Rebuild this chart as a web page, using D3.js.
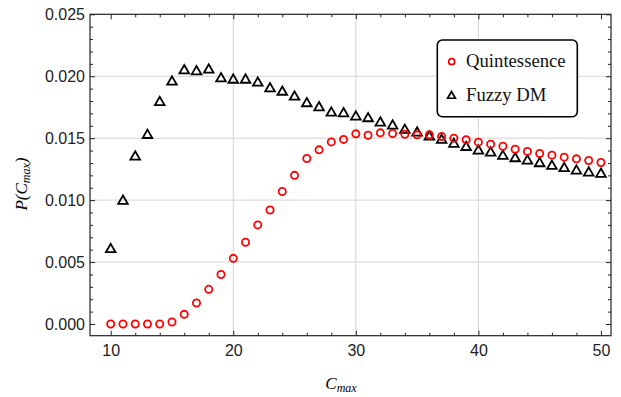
<!DOCTYPE html>
<html>
<head>
<meta charset="utf-8">
<script src="https://cdn.jsdelivr.net/npm/d3@7"></script>
<style>
  body { margin: 0; background: #fff; }
  .tick text { font-family: "Liberation Sans", Arial, sans-serif; font-size: 16px; fill: #222; }
  .domain { display: none; }
</style>
</head>
<body>
<div id="chart"></div>
<script>
const cmax = d3.range(10, 51);

const quintessence = [
  0.0000, 0.0000, 0.0000, 0.0000, 0.0000, 0.00016, 0.00078, 0.0017, 0.0028, 0.0040,
  0.0053, 0.0066, 0.0080, 0.0092, 0.0107, 0.0120, 0.01336, 0.01406, 0.0147, 0.0149,
  0.01535, 0.01524, 0.01543, 0.01538, 0.01532, 0.01527, 0.01527, 0.01514, 0.0150, 0.01487,
  0.01468, 0.01452, 0.01435, 0.01411, 0.01393, 0.01376, 0.01363, 0.01347, 0.01333, 0.0132,
  0.01304
];

const fuzzyDM = [
  0.00602, 0.00992, 0.0135, 0.01524, 0.0179, 0.01954, 0.02046, 0.02038, 0.02051, 0.01981,
  0.0197, 0.0197, 0.01946, 0.0190, 0.01873, 0.01833, 0.0178, 0.01747, 0.01704, 0.01699,
  0.01672, 0.01659, 0.01624, 0.0160, 0.01565, 0.01543, 0.0151, 0.01484, 0.01452, 0.01427,
  0.01398, 0.01382, 0.01355, 0.01336, 0.01317, 0.01296, 0.01274, 0.01256, 0.01236, 0.0122,
  0.0121
];

const xTicks = [10, 20, 30, 40, 50];
const yTicks = [0, 0.005, 0.010, 0.015, 0.020, 0.025];
const xGrid = [20, 30, 40];
const yGrid = [0.005, 0.010, 0.015, 0.020];
const legendLabels = ['Quintessence', 'Fuzzy DM'];

const width = 621, height = 397;
const margin = { top: 14.3, right: 10, bottom: 61.3, left: 90 };

const svg = d3.select('#chart')
  .append('svg')
  .attr('width', width)
  .attr('height', height);

const x = d3.scaleLinear()
  .domain([8.31, 50.82])
  .range([margin.left, width - margin.right]);

const y = d3.scaleLinear()
  .domain([-0.000944, 0.025])
  .range([height - margin.bottom, margin.top]);

// grid
svg.append('g')
  .selectAll('line.gx')
  .data(xGrid)
  .enter().append('line')
  .attr('x1', d => x(d)).attr('x2', d => x(d))
  .attr('y1', margin.top).attr('y2', height - margin.bottom)
  .attr('stroke', '#d4d4d4').attr('stroke-width', 1);

svg.append('g')
  .selectAll('line.gy')
  .data(yGrid)
  .enter().append('line')
  .attr('x1', margin.left).attr('x2', width - margin.right)
  .attr('y1', d => y(d)).attr('y2', d => y(d))
  .attr('stroke', '#d4d4d4').attr('stroke-width', 1);

// axes, ticks pointing inward
const xMinor = d3.range(10, 51, 2).filter(v => v % 10 !== 0);
const yMinor = d3.range(0, 26).map(v => v / 1000).filter((v, i) => i % 5 !== 0);

function drawAxis(axisFn, scale, ticks, minor, transform, labels, pad) {
  const g = svg.append('g').attr('transform', transform);
  g.call(axisFn(scale).tickValues(minor).tickSize(-3).tickFormat(''));
  const g2 = svg.append('g').attr('transform', transform);
  g2.call(axisFn(scale).tickValues(ticks).tickSize(-5).tickPadding(pad)
    .tickFormat(labels ? labels : ''));
  svg.selectAll('.tick line').attr('stroke', '#222');
  return g2;
}

drawAxis(d3.axisBottom, x, xTicks, xMinor, `translate(0,${height - margin.bottom})`, d3.format('d'), 9);
drawAxis(d3.axisTop, x, xTicks, xMinor, `translate(0,${margin.top})`, null, 0);
drawAxis(d3.axisLeft, y, yTicks, yMinor, `translate(${margin.left},0)`, d3.format('.3f'), 5);
drawAxis(d3.axisRight, y, yTicks, yMinor, `translate(${width - margin.right},0)`, null, 0);

svg.selectAll('.tick text').filter(function() { return this.textContent === ''; }).remove();

// frame
svg.append('rect')
  .attr('x', margin.left).attr('y', margin.top)
  .attr('width', width - margin.right - margin.left)
  .attr('height', height - margin.bottom - margin.top)
  .attr('fill', 'none').attr('stroke', '#222').attr('stroke-width', 1.2);

// series
const tri = d3.symbol().type(d3.symbolTriangle).size(40);

svg.append('g')
  .selectAll('path')
  .data(cmax)
  .enter().append('path')
  .attr('d', tri)
  .attr('transform', (d, i) => `translate(${x(d)},${y(fuzzyDM[i])})`)
  .attr('fill', 'none').attr('stroke', '#000').attr('stroke-width', 1.8);

svg.append('g')
  .selectAll('circle')
  .data(cmax)
  .enter().append('circle')
  .attr('cx', d => x(d))
  .attr('cy', (d, i) => y(quintessence[i]))
  .attr('r', 3.6)
  .attr('fill', 'none').attr('stroke', '#ff0000').attr('stroke-width', 1.8);

// axis labels
const serif = '"Liberation Serif", "Times New Roman", serif';

const xl = svg.append('text')
  .attr('x', 341).attr('y', 389)
  .attr('text-anchor', 'middle')
  .style('font-family', serif).style('font-style', 'italic').style('font-size', '17px');
xl.append('tspan').text('C');
xl.append('tspan').attr('dy', 3).style('font-size', '12px').text('max');

const yl = svg.append('text')
  .attr('transform', 'translate(27,184) rotate(-90)')
  .attr('text-anchor', 'middle')
  .style('font-family', serif).style('font-style', 'italic').style('font-size', '17px');
yl.append('tspan').text('P(C');
yl.append('tspan').attr('dy', 3).style('font-size', '12px').text('max');
yl.append('tspan').attr('dy', -3).text(')');

// legend
const legend = svg.append('g');
legend.append('rect')
  .attr('x', 437.3).attr('y', 40)
  .attr('width', 140).attr('height', 76.7)
  .attr('rx', 5)
  .attr('fill', '#fff').attr('stroke', '#000').attr('stroke-width', 1.6);

legend.append('circle')
  .attr('cx', 451.7).attr('cy', 61.7).attr('r', 3)
  .attr('fill', 'none').attr('stroke', '#ff0000').attr('stroke-width', 1.7);
legend.append('path')
  .attr('d', d3.symbol().type(d3.symbolTriangle).size(26))
  .attr('transform', 'translate(451.5,96)')
  .attr('fill', 'none').attr('stroke', '#000').attr('stroke-width', 1.7);

legend.selectAll('text')
  .data(legendLabels)
  .enter().append('text')
  .attr('x', 466)
  .attr('y', (d, i) => 67.3 + i * 33.5)
  .style('font-family', serif).style('font-size', '18.7px').style('fill', '#111')
  .text(d => d);
</script>
</body>
</html>
